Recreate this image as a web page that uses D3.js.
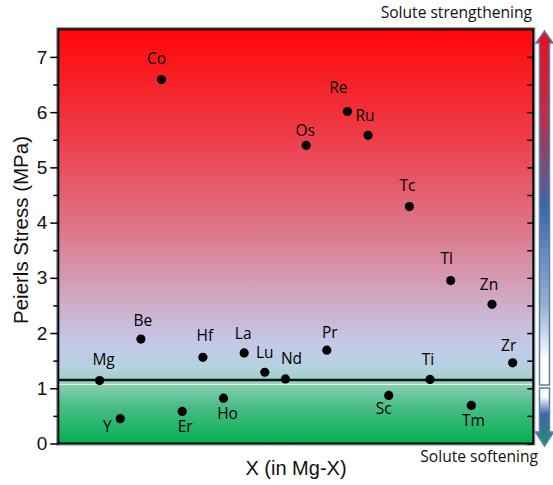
<!DOCTYPE html>
<html>
<head>
<meta charset="utf-8">
<script src="https://cdn.jsdelivr.net/npm/d3@7"></script>
<style>
	body { margin: 0; background: #fff; }
	svg { display: block; }
</style>
</head>
<body>
<svg></svg>
<script>
// data
const elements = ["Mg","Y","Be","Co","Er","Hf","Ho","La","Lu","Nd","Os","Pr","Re","Ru","Sc","Tc","Ti","Tl","Tm","Zn","Zr"];
const stress = [1.14,0.45,1.89,6.59,0.58,1.56,0.82,1.64,1.29,1.17,5.40,1.69,6.01,5.58,0.87,4.29,1.16,2.95,0.69,2.52,1.46];
const mgLevel = 1.15;
const yTicks = [0,1,2,3,4,5,6,7];
const yMinorTicks = [0.5,1.5,2.5,3.5,4.5,5.5,6.5];

// label placement (px offsets from the point)
const labelOffset = {
	Mg:[4,-21], Y:[-13,8], Be:[2,-19], Co:[-5,-21], Er:[3,15], Hf:[2,-22], Ho:[4,15],
	La:[-1,-20], Lu:[0,-20], Nd:[6,-20], Os:[-1,-15], Pr:[3,-18], Re:[-9,-24], Ru:[-3,-20],
	Sc:[-5,13], Tc:[-2,-21], Ti:[-2,-20], Tl:[-4,-22], Tm:[2,15], Zn:[-3,-20], Zr:[-4,-17]
};

const width = 553, height = 485;
const plotL = 58.3, plotR = 533.3, plotT = 29.3, plotB = 443.5;

const svg = d3.select('svg').attr('width', width).attr('height', height);

const x = d3.scaleLinear().domain([-2, elements.length]).range([plotL, plotR]);
const y = d3.scaleLinear().domain([0, 7.5]).range([plotB, plotT]);

const defs = svg.append('defs');
function grad(id, stops) {
	const g = defs.append('linearGradient').attr('id', id)
		.attr('x1', 0).attr('y1', 0).attr('x2', 0).attr('y2', 1);
	stops.forEach(s => g.append('stop').attr('offset', s[0]).attr('stop-color', s[1]));
}
grad('upperBg', [[0,'#ff0808'],[0.3,'#ee3c48'],[0.55,'#de7386'],[0.72,'#d49fb8'],[0.84,'#c8bedc'],[0.9,'#c2cbe8'],[0.95,'#b4d2e0'],[1,'#98d0c2']]);
grad('lowerBg', [[0,'#88d0b2'],[0.35,'#4dbd8a'],[1,'#02b050']]);
grad('upArrow', [[0,'#e8101c'],[0.25,'#b8304a'],[0.5,'#3c69a8'],[0.78,'#98b2d2'],[0.93,'#ffffff'],[1,'#ffffff']]);
grad('downArrow', [[0,'#ffffff'],[0.15,'#ffffff'],[0.45,'#3c68a8'],[0.75,'#2f7e84'],[1,'#23936a']]);

const split = y(mgLevel) + 4.5;

// background bands
svg.append('rect')
	.attr('x', plotL).attr('y', plotT)
	.attr('width', plotR - plotL).attr('height', split - plotT)
	.attr('fill', 'url(#upperBg)');
svg.append('rect')
	.attr('x', plotL).attr('y', split)
	.attr('width', plotR - plotL).attr('height', plotB - split)
	.attr('fill', 'url(#lowerBg)');
svg.append('line')
	.attr('x1', plotL).attr('x2', plotR).attr('y1', split).attr('y2', split)
	.attr('stroke', '#ffffff').attr('stroke-opacity', 0.7).attr('stroke-width', 1);

// outer blue-grey frame
svg.append('rect')
	.attr('x', plotL - 1.5).attr('y', plotT - 1.5)
	.attr('width', plotR - plotL + 3).attr('height', plotB - plotT + 3)
	.attr('fill', 'none').attr('stroke', '#6a86ae').attr('stroke-width', 1);

// Mg reference line
svg.append('line')
	.attr('x1', plotL).attr('x2', plotR)
	.attr('y1', y(mgLevel)).attr('y2', y(mgLevel))
	.attr('stroke', '#111').attr('stroke-width', 2.5);

// axes
const yAxis = d3.axisLeft(y).tickValues(yTicks).tickSize(8).tickPadding(3).tickFormat(d3.format('d'));
const ga = svg.append('g').attr('transform', `translate(${plotL},0)`).call(yAxis);
ga.select('.domain').remove();
ga.selectAll('.tick line').attr('stroke', '#000').attr('stroke-width', 1.5);
ga.selectAll('.tick text')
	.attr('font-family', 'Liberation Sans, Arial, sans-serif')
	.attr('font-size', 19).attr('fill', '#111');

const gm = svg.append('g').attr('transform', `translate(${plotL},0)`)
	.call(d3.axisLeft(y).tickValues(yMinorTicks).tickSize(5).tickFormat(''));
gm.select('.domain').remove();
gm.selectAll('.tick line').attr('stroke', '#000').attr('stroke-width', 1.5);

const gr = svg.append('g').attr('transform', `translate(${plotR},0)`)
	.call(d3.axisLeft(y).tickValues(yTicks.concat(yMinorTicks)).tickSize(6).tickFormat(''));
gr.select('.domain').remove();
gr.selectAll('.tick line').attr('stroke', '#000').attr('stroke-width', 1.5);

// black frame
svg.append('rect')
	.attr('x', plotL).attr('y', plotT)
	.attr('width', plotR - plotL).attr('height', plotB - plotT)
	.attr('fill', 'none').attr('stroke', '#000').attr('stroke-width', 2);
svg.append('line')
	.attr('x1', plotL).attr('x2', plotR).attr('y1', plotT).attr('y2', plotT)
	.attr('stroke', '#3a1010').attr('stroke-width', 2);

// points
const pts = elements.map((e, i) => ({name: e, value: stress[i], i: i}));
svg.append('g').selectAll('circle')
	.data(pts)
	.join('circle')
		.attr('cx', d => x(d.i))
		.attr('cy', d => y(d.value))
		.attr('r', 4.6)
		.attr('fill', '#000');

svg.append('g').selectAll('text')
	.data(pts)
	.join('text')
		.attr('x', d => x(d.i) + labelOffset[d.name][0])
		.attr('y', d => y(d.value) + labelOffset[d.name][1])
		.attr('dy', '0.36em')
		.attr('text-anchor', 'middle')
		.attr('font-family', 'Open Sans, sans-serif')
		.attr('font-size', 15.5)
		.attr('fill', '#000')
		.text(d => d.name);

// axis titles
svg.append('text')
	.attr('transform', 'translate(28,230) rotate(-90)')
	.attr('text-anchor', 'middle')
	.attr('font-family', 'Liberation Sans, Arial, sans-serif')
	.attr('font-size', 20.5).attr('fill', '#111')
	.text('Peierls Stress (MPa)');
svg.append('text')
	.attr('x', 296).attr('y', 475)
	.attr('text-anchor', 'middle')
	.attr('font-family', 'Liberation Sans, Arial, sans-serif')
	.attr('font-size', 20).attr('fill', '#111')
	.text('X (in Mg-X)');

// side arrows
const ax = 544.5;
const upTop = 31, upBottom = 385, downTop = 388, downTip = 446;
svg.append('path')
	.attr('d', `M${ax},${upTop} L${ax + 8.5},${upTop + 12} L${ax + 5},${upTop + 12} L${ax + 5},${upBottom}
		L${ax - 5},${upBottom} L${ax - 5},${upTop + 12} L${ax - 8.5},${upTop + 12} Z`)
	.attr('fill', 'url(#upArrow)').attr('stroke', '#5a7eae').attr('stroke-width', 1.5);
svg.append('path')
	.attr('d', `M${ax - 5},${downTop} L${ax + 5},${downTop} L${ax + 5},${downTip - 14} L${ax + 9},${downTip - 14}
		L${ax},${downTip} L${ax - 9},${downTip - 14} L${ax - 5},${downTip - 14} Z`)
	.attr('fill', 'url(#downArrow)').attr('stroke', '#5a7eae').attr('stroke-width', 1.5);

svg.append('text')
	.attr('x', 532).attr('y', 18)
	.attr('text-anchor', 'end')
	.attr('font-family', 'Open Sans, sans-serif')
	.attr('font-size', 15.6).attr('fill', '#111')
	.text('Solute strengthening');
svg.append('text')
	.attr('x', 538).attr('y', 462)
	.attr('text-anchor', 'end')
	.attr('font-family', 'Open Sans, sans-serif')
	.attr('font-size', 15.6).attr('fill', '#111')
	.text('Solute softening');
</script>
</body>
</html>
